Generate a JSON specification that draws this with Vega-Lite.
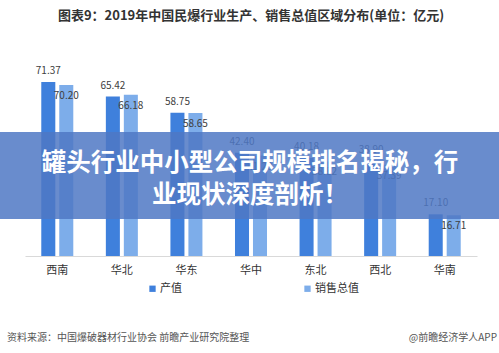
{
  "$schema": "https://vega.github.io/schema/vega-lite/v6.json",
  "width": 452,
  "height": 195,
  "autosize": {"type": "none"},
  "padding": {"left": 25, "top": 61, "right": 22, "bottom": 97},
  "background": "white",
  "title": {
    "text": "图表9：2019年中国民爆行业生产、销售总值区域分布(单位：亿元)",
    "anchor": "middle",
    "fontSize": 13,
    "fontWeight": "bold",
    "font": "Noto Sans CJK SC",
    "color": "#333333",
    "offset": 38
  },
  "config": {
    "view": {"stroke": null},
    "font": "Noto Sans CJK SC"
  },
  "data": {
    "values": [
      {"region": "西南", "series": "产值", "value": 71.37},
      {"region": "西南", "series": "销售总值", "value": 70.20},
      {"region": "华北", "series": "产值", "value": 65.42},
      {"region": "华北", "series": "销售总值", "value": 66.18},
      {"region": "华东", "series": "产值", "value": 58.75},
      {"region": "华东", "series": "销售总值", "value": 58.65},
      {"region": "华中", "series": "产值", "value": 42.40},
      {"region": "华中", "series": "销售总值", "value": 41.20},
      {"region": "东北", "series": "产值", "value": 40.18},
      {"region": "东北", "series": "销售总值", "value": 38.82},
      {"region": "西北", "series": "产值", "value": 38.90},
      {"region": "西北", "series": "销售总值", "value": 37.39},
      {"region": "华南", "series": "产值", "value": 17.10},
      {"region": "华南", "series": "销售总值", "value": 16.71}
    ]
  },
  "encoding": {
    "x": {
      "field": "region",
      "type": "nominal",
      "sort": ["西南", "华北", "华东", "华中", "东北", "西北", "华南"],
      "scale": {"paddingInner": 0.443, "paddingOuter": 0.2215},
      "axis": {
        "title": null,
        "labelAngle": 0,
        "ticks": false,
        "domainColor": "#d9d9d9",
        "labelFontSize": 11,
        "labelColor": "#333333",
        "labelPadding": 8
      }
    },
    "xOffset": {
      "field": "series",
      "type": "nominal",
      "sort": ["产值", "销售总值"],
      "scale": {"paddingInner": 0.22, "paddingOuter": 0.11}
    },
    "y": {
      "field": "value",
      "type": "quantitative",
      "scale": {"domain": [0, 80], "nice": false},
      "axis": null
    }
  },
  "layer": [
    {
      "mark": {"type": "bar"},
      "encoding": {
        "color": {
          "field": "series",
          "type": "nominal",
          "sort": ["产值", "销售总值"],
          "scale": {"domain": ["产值", "销售总值"], "range": ["#3f80dc", "#7dadea"]},
          "legend": {
            "title": null,
            "orient": "none",
            "direction": "horizontal",
            "legendX": 122,
            "legendY": 222,
            "symbolType": "square",
            "symbolSize": 40,
            "labelFontSize": 11,
            "labelColor": "#333333",
            "columnPadding": 120,
            "symbolOffset": 0,
            "labelOffset": 2
          }
        }
      }
    },
    {
      "transform": [{"filter": "datum.series == '产值'"}],
      "mark": {"type": "text", "baseline": "bottom", "dy": -6, "fontSize": 10, "color": "#404040"},
      "encoding": {"text": {"field": "value", "type": "quantitative", "format": ".2f"}}
    },
    {
      "transform": [{"filter": "datum.series == '销售总值'"}],
      "mark": {"type": "text", "baseline": "middle", "dy": 11, "fontSize": 10, "color": "#404040"},
      "encoding": {"text": {"field": "value", "type": "quantitative", "format": ".2f"}}
    },
    {
      "data": {"values": [{"a": 1}]},
      "mark": {"type": "rect", "color": "#4f78c4", "opacity": 0.85},
      "encoding": {
        "x": {"value": -25},
        "x2": {"value": 474},
        "y": {"value": 71},
        "y2": {"value": 158},
        "xOffset": null
      }
    },
    {
      "data": {"values": [{"line": "罐头行业中小型公司规模排名揭秘，行", "row": 0}, {"line": "业现状深度剖析！", "row": 1}]},
      "mark": {"type": "text", "color": "white", "fontSize": 24.5, "fontWeight": "bold", "font": "Noto Sans CJK SC", "align": "center", "baseline": "middle"},
      "encoding": {
        "x": {"value": 225},
        "y": {"field": "row", "type": "quantitative", "scale": {"domain": [0, 1], "range": [103, 135]}, "axis": null},
        "text": {"field": "line"},
        "xOffset": null
      }
    },
    {
      "data": {"values": [{"t": "资料来源：中国爆破器材行业协会 前瞻产业研究院整理"}]},
      "mark": {"type": "text", "color": "#555555", "fontSize": 10, "align": "left", "baseline": "middle"},
      "encoding": {
        "x": {"value": -18},
        "y": {"value": 277},
        "text": {"field": "t"},
        "xOffset": null
      }
    },
    {
      "data": {"values": [{"t": "@前瞻经济学人APP"}]},
      "mark": {"type": "text", "color": "#555555", "fontSize": 10, "align": "right", "baseline": "middle"},
      "encoding": {
        "x": {"value": 472},
        "y": {"value": 277},
        "text": {"field": "t"},
        "xOffset": null
      }
    }
  ],
  "resolve": {"scale": {"y": "independent"}}
}
